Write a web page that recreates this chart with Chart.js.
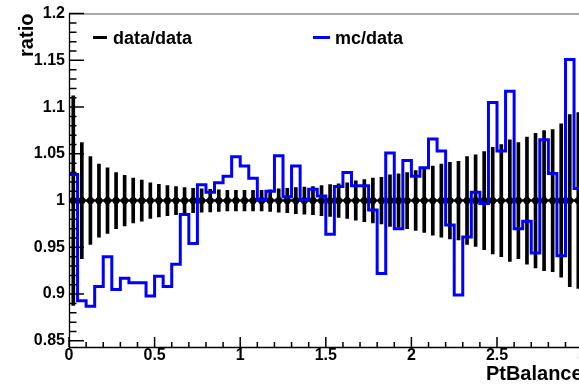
<!DOCTYPE html>
<html><head><meta charset="utf-8">
<script src="https://cdn.jsdelivr.net/npm/chart.js@4/dist/chart.umd.min.js"></script>
<style>
html,body{margin:0;padding:0;background:#fff;overflow:hidden;width:579px;height:386px}
#wrap{position:absolute;left:0;top:0;width:640px;height:386px}
</style></head><body>
<div id="wrap"><canvas id="c" width="640" height="386"></canvas></div>
<script>
// ---- data ----
const binEdges = [0,0.05,0.1,0.15,0.2,0.25,0.3,0.35,0.4,0.45,0.5,0.55,0.6,0.65,0.7,0.75,0.8,0.85,0.9,0.95,
  1,1.05,1.1,1.15,1.2,1.25,1.3,1.35,1.4,1.45,1.5,1.55,1.6,1.65,1.7,1.75,1.8,1.85,1.9,1.95,
  2,2.05,2.1,2.15,2.2,2.25,2.3,2.35,2.4,2.45,2.5,2.55,2.6,2.65,2.7,2.75,2.8,2.85,2.9,2.95,3];
const binCenters = [0.025,0.075,0.125,0.175,0.225,0.275,0.325,0.375,0.425,0.475,0.525,0.575,0.625,0.675,0.725,0.775,0.825,0.875,0.925,0.975,
  1.025,1.075,1.125,1.175,1.225,1.275,1.325,1.375,1.425,1.475,1.525,1.575,1.625,1.675,1.725,1.775,1.825,1.875,1.925,1.975,
  2.025,2.075,2.125,2.175,2.225,2.275,2.325,2.375,2.425,2.475,2.525,2.575,2.625,2.675,2.725,2.775,2.825,2.875,2.925,2.975];
const dataRatio = [1,1,1,1,1,1,1,1,1,1,1,1,1,1,1,1,1,1,1,1,
  1,1,1,1,1,1,1,1,1,1,1,1,1,1,1,1,1,1,1,1,
  1,1,1,1,1,1,1,1,1,1,1,1,1,1,1,1,1,1,1,1];
const dataErr = [0.112,0.062,0.047,0.039,0.035,0.030,0.027,0.024,0.022,0.019,0.0175,0.016,0.015,0.014,0.013,0.0125,0.012,0.0115,0.011,0.011,
  0.011,0.011,0.011,0.0115,0.0125,0.013,0.014,0.0145,0.015,0.016,0.017,0.018,0.019,0.021,0.0225,0.024,0.025,0.0275,0.0285,0.030,
  0.032,0.034,0.037,0.039,0.041,0.042,0.047,0.049,0.0525,0.057,0.060,0.065,0.062,0.068,0.072,0.075,0.076,0.082,0.092,0.094];
const mcRatio = [1.028,0.893,0.887,0.908,0.940,0.905,0.917,0.912,0.912,0.898,0.919,0.908,0.932,0.985,0.954,1.017,1.009,1.019,1.026,1.047,
  1.037,1.024,1.001,1.010,1.048,1.004,1.037,1.001,1.012,1.005,0.964,1.015,1.030,1.016,1.016,0.990,0.922,1.051,0.970,1.043,
  1.026,1.035,1.066,1.053,0.974,0.899,0.961,1.009,0.997,1.105,1.053,1.117,0.970,0.978,0.944,1.065,1.029,0.941,1.151,1.013];
const xTickValues = [0,0.5,1,1.5,2,2.5,3];
const xTickLabels = ['0','0.5','1','1.5','2','2.5','3'];
const yTickValues = [0.85,0.9,0.95,1,1.05,1.1,1.15,1.2];
const yTickLabels = ['0.85','0.9','0.95','1','1.05','1.1','1.15','1.2'];
const legendLabels = ['data/data','mc/data'];
const xTitle = 'PtBalance';
const yTitle = 'ratio';

// ---- derived tables ----
const mcStep = binEdges.map((e,i)=>({x:e, y: mcRatio[Math.min(i, mcRatio.length-1)]}));
const errBars = binCenters.map((c,i)=>({x:c, y:[dataRatio[i]-dataErr[i], dataRatio[i]+dataErr[i]]}));
const markers = binCenters.map((c,i)=>({x:c, y:dataRatio[i]}));
const xErrLine = binEdges.map((e,i)=>({x:e, y:dataRatio[Math.min(i, dataRatio.length-1)]}));

const BLUE = 'rgb(0,0,255)';
const FONT = '"Liberation Sans", Arial, Helvetica, sans-serif';
Chart.defaults.font.family = FONT;
Chart.defaults.color = '#000';

const rootAxes = {
  id: 'rootAxes',
  afterDraw(chart) {
    const {ctx, chartArea: a, scales: {x, y}} = chart;
    ctx.save();
    // frame top
    ctx.strokeStyle = '#8a8a8a'; ctx.lineWidth = 1.5;
    ctx.beginPath(); ctx.moveTo(a.left, a.top + 0.5); ctx.lineTo(a.right, a.top + 0.5); ctx.stroke();
    // axis lines
    ctx.strokeStyle = '#000'; ctx.lineWidth = 1.3;
    ctx.beginPath();
    ctx.moveTo(a.left + 0.5, a.top); ctx.lineTo(a.left + 0.5, a.bottom + 1);
    ctx.moveTo(a.left, a.bottom + 0.5); ctx.lineTo(a.right, a.bottom + 0.5);
    ctx.stroke();
    // y ticks (inward)
    ctx.lineWidth = 1.5;
    ctx.beginPath();
    for (let i = 0; i < yTickValues.length; i++) {
      const py = y.getPixelForValue(yTickValues[i]);
      ctx.moveTo(a.left, py); ctx.lineTo(a.left + 15, py);
      if (i < yTickValues.length - 1) {
        const step = (yTickValues[i+1] - yTickValues[i]) / 5;
        for (let k = 1; k < 5; k++) {
          const pm = y.getPixelForValue(yTickValues[i] + k*step);
          ctx.moveTo(a.left, pm); ctx.lineTo(a.left + 7.5, pm);
        }
      }
    }
    // x ticks (inward)
    for (let i = 0; i < xTickValues.length; i++) {
      const px = x.getPixelForValue(xTickValues[i]);
      ctx.moveTo(px, a.bottom); ctx.lineTo(px, a.bottom - 10);
      if (i < xTickValues.length - 1) {
        const step = (xTickValues[i+1] - xTickValues[i]) / 5;
        for (let k = 1; k < 5; k++) {
          const pm = x.getPixelForValue(xTickValues[i] + k*step);
          ctx.moveTo(pm, a.bottom); ctx.lineTo(pm, a.bottom - 5);
        }
      }
    }
    ctx.stroke();
    // legend
    const items = [
      {label: legendLabels[0], color: chart.data.datasets[1].backgroundColor, x0: 93, x1: 107, tx: 113},
      {label: legendLabels[1], color: chart.data.datasets[0].borderColor, x0: 313, x1: 330, tx: 335}
    ];
    ctx.font = 'bold 18px ' + FONT;
    ctx.textBaseline = 'alphabetic';
    ctx.textAlign = 'left';
    items.forEach(it => {
      ctx.strokeStyle = it.color; ctx.lineWidth = 3;
      ctx.beginPath(); ctx.moveTo(it.x0, 37.5); ctx.lineTo(it.x1, 37.5); ctx.stroke();
      ctx.fillStyle = '#000';
      ctx.fillText(it.label, it.tx, 44);
    });
    ctx.restore();
  }
};

new Chart(document.getElementById('c'), {
  type: 'line',
  data: {
    datasets: [
      {type: 'line', label: legendLabels[1], data: mcStep, stepped: 'before', borderColor: BLUE,
       borderWidth: 3, pointRadius: 0, fill: false, tension: 0},
      {type: 'bar', label: 'err', data: errBars, backgroundColor: '#000', borderWidth: 0,
       barThickness: 3, grouped: false},
      {type: 'scatter', label: legendLabels[0], data: markers, backgroundColor: '#000', borderWidth: 0,
       pointRadius: 3.6, pointStyle: 'circle', showLine: false},
      {type: 'line', label: 'xerr', data: xErrLine, borderColor: '#000', borderWidth: 2.5, pointRadius: 0, fill: false}
    ]
  },
  options: {
    responsive: false,
    animation: false,
    devicePixelRatio: 1,
    layout: {padding: {top: 13, right: 57.4, left: 0, bottom: 0}},
    plugins: {legend: {display: false}, tooltip: {enabled: false}},
    scales: {
      x: {
        type: 'linear', min: 0, max: 3, offset: false,
        grid: {display: false, drawTicks: false, tickLength: 0},
        border: {display: false},
        afterBuildTicks: s => { s.ticks = xTickValues.map(v => ({value: v})); },
        ticks: {padding: 0, autoSkip: false, maxRotation: 0, font: {size: 16, weight: 'bold', lineHeight: 1.1},
                callback: (v, i) => xTickLabels[i]},
        title: {display: true, text: xTitle, align: 'end', font: {size: 20, weight: 'bold', lineHeight: 1.2},
                padding: {top: 0, bottom: 0}},
        afterFit: s => { s.height = 39; }
      },
      y: {
        type: 'linear', min: 0.8434, max: 1.2,
        grid: {display: false, drawTicks: false, tickLength: 0},
        border: {display: false},
        afterBuildTicks: s => { s.ticks = yTickValues.map(v => ({value: v})); },
        ticks: {padding: 4, autoSkip: false, font: {size: 16, weight: 'bold'},
                callback: (v, i) => yTickLabels[i]},
        title: {display: true, text: yTitle, align: 'end', font: {size: 20, weight: 'bold', lineHeight: 1.2},
                padding: {top: 15, bottom: 0}},
        afterFit: s => { s.width = 69; }
      }
    }
  },
  plugins: [rootAxes]
});
</script>
</body></html>
